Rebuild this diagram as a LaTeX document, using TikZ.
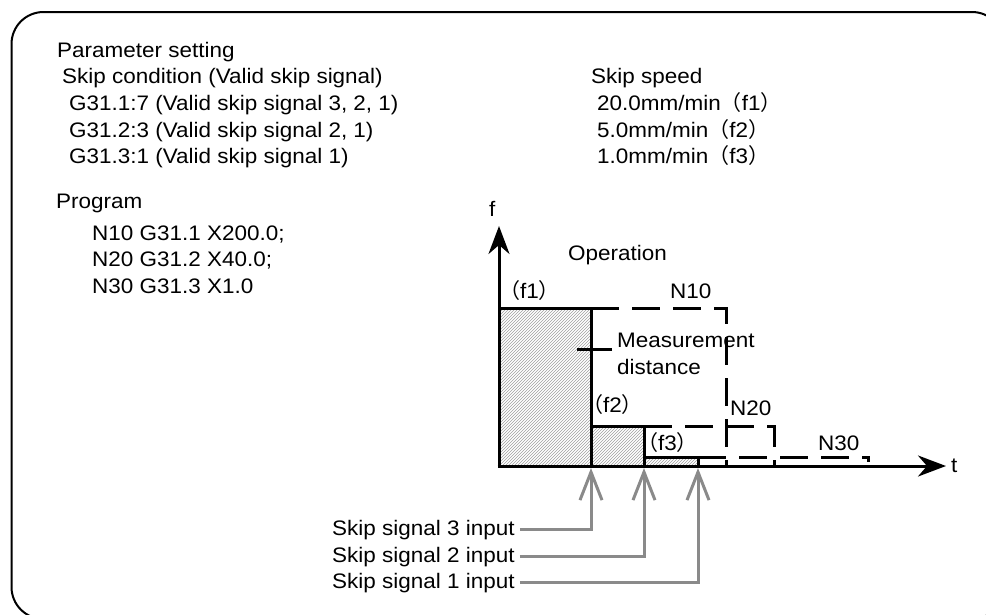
\documentclass[tikz,border=0pt]{standalone}
\usepackage{fontspec}
\setmainfont{Liberation Sans}[FakeStretch=1.07]
\newfontfamily\cjkfont{Noto Sans CJK JP}
\usetikzlibrary{arrows.meta,patterns,calc}
\newcommand{\flp}{{\cjkfont （}}
\newcommand{\frp}{{\cjkfont ）}}
\definecolor{sig}{HTML}{8A8A8A}
\tikzset{
  txt/.style={font=\fontsize{21}{25}\selectfont, inner sep=0pt, anchor=base west},
  frame/.style={line width=2pt, rounded corners=32pt},
  axis/.style={line width=3pt, -{Stealth[length=28pt,width=21pt,inset=9pt]}},
  solidedge/.style={line width=3pt},
  dashedge/.style={line width=3pt, dash pattern=on 28pt off 13pt},
  hatch/.style={pattern=north east lines, pattern color=gray!75},
  sigline/.style={line width=3pt, draw=sig, -{Straight Barb[length=28pt,width=22pt]}},
}
\begin{document}
\begin{tikzpicture}[x=1pt,y=-1pt]
\useasboundingbox (0,0) rectangle (986,614);
\draw[frame] (11.5,12) rectangle (1004,619);

% left text block
\node[txt] (ps) at (57,57) {Parameter setting};
\node[txt] (sc) at (62,83) {Skip condition (Valid skip signal)};
\node[txt] (g1) at (69,110) {G31.1:7 (Valid skip signal 3, 2, 1)};
\node[txt] (g2) at (69,137) {G31.2:3 (Valid skip signal 2, 1)};
\node[txt] (g3) at (69,163) {G31.3:1 (Valid skip signal 1)};
\node[txt] (pg) at (56,208) {Program};
\node[txt] (n10t) at (92,240) {N10 G31.1 X200.0;};
\node[txt] (n20t) at (92,266) {N20 G31.2 X40.0;};
\node[txt] (n30t) at (92,293) {N30 G31.3 X1.0};

% skip speed block
\node[txt] (ss) at (591,83) {Skip speed};
\node[txt] (s1) at (597,110) {20.0mm/min\flp f1\frp};
\node[txt] (s2) at (597,137) {5.0mm/min\flp f2\frp};
\node[txt] (s3) at (597,163) {1.0mm/min\flp f3\frp};

% graph coordinates
\coordinate (O) at (499,466);
\coordinate (ftop) at (499,226);
\coordinate (tend) at (946,466);
\coordinate (a1) at (499,308);
\coordinate (b1) at (591,308);
\coordinate (x1) at (591,466);
\coordinate (b2) at (591,426);
\coordinate (c2) at (644,426);
\coordinate (x2) at (644,466);
\coordinate (c3) at (644,457);
\coordinate (d3) at (698,457);
\coordinate (x3) at (698,466);

% hatched areas
\fill[hatch] (a1) rectangle (x1);
\fill[hatch] (b2) rectangle (x2);
\fill[hatch] (c3) rectangle (x3);

% dashed programmed moves
\draw[dashedge] (b1) -- (726,308) -- (726,466);
\draw[dashedge] (c2) -- (774,426) -- (774,466);
\draw[dashedge] (d3) -- (868,457) -- (868,462);

% solid actual moves
\draw[solidedge] (a1) -- (b1) -- (x1);
\draw[solidedge] (b2) -- (c2) -- (x2);
\draw[solidedge] (c3) -- (d3) -- (x3);

% axes
\draw[axis] ([yshift=1.5pt]O) -- (ftop);
\draw[axis] ([xshift=-1.5pt]O) -- (tend);
\node[txt] (flab) at (489,216) {f};
\node[txt] (tlab) at (951,472) {t};

% graph labels
\node[txt] (op) at (568,260) {Operation};
\node[txt] (f1l) at (499,298) {\flp f1\frp};
\node[txt] (n10l) at (670,298) {N10};
\node[txt] (meas) at (617,347) {Measurement};
\node[txt] (dist) at (617,374) {distance};
\draw[solidedge] ($(meas.base west)+(-5,2)$) -- ++(-35,0);
\node[txt] (f2l) at (582,412) {\flp f2\frp};
\node[txt] (n20l) at (730,415) {N20};
\node[txt] (f3l) at (637,450) {\flp f3\frp};
\node[txt] (n30l) at (818,450) {N30};

% skip signal inputs
\node[txt] (k3) at (332,535) {Skip signal 3 input};
\node[txt] (k2) at (332,562) {Skip signal 2 input};
\node[txt] (k1) at (332,588) {Skip signal 1 input};
\draw[sigline] ([xshift=5pt]k3.east) -| ([yshift=-2pt]x1);
\draw[sigline] ([xshift=5pt]k2.east) -| ([yshift=-2pt]x2);
\draw[sigline] ([xshift=5pt]k1.east) -| ([yshift=-2pt]x3);
\end{tikzpicture}
\end{document}
